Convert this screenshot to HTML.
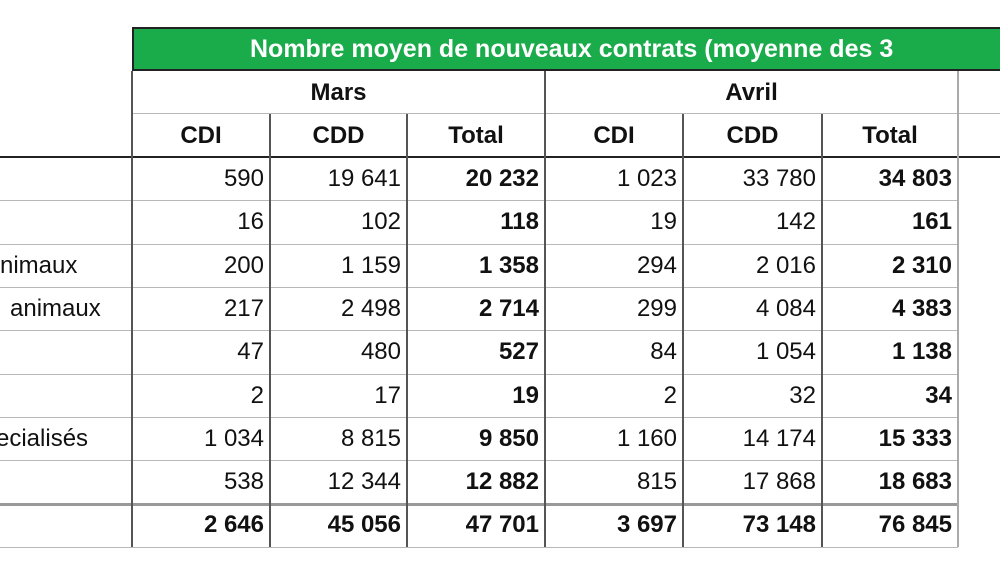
<!DOCTYPE html>
<html><head><meta charset="utf-8">
<style>
body{margin:0;width:1000px;height:563px;background:#fff;overflow:hidden;position:relative;font-family:"Liberation Sans",sans-serif;color:#111}
.a{position:absolute;box-sizing:border-box}
.t{font-size:24px;line-height:43px;white-space:nowrap}
.hl{height:1px;background:#b8b8b8}
.vl{width:2px;background:#555}
</style></head><body>
<div class="a" style="left:132px;top:27px;width:868px;height:44px;background:#1aab4a;border:2px solid #222;border-right:none"></div>
<div class="a t" style="left:250px;top:28px;color:#fff;font-weight:bold;font-size:25px">Nombre moyen de nouveaux contrats (moyenne des 3</div>
<div id="tbl"></div>
<script>
const months=["Mars","Avril"];
const subHeaders=["CDI","CDD","Total"];
const rowLabels=["","","nimaux","animaux","","","ecialisés","",""];
const marsCDI=["590","16","200","217","47","2","1 034","538","2 646"];
const marsCDD=["19 641","102","1 159","2 498","480","17","8 815","12 344","45 056"];
const marsTot=["20 232","118","1 358","2 714","527","19","9 850","12 882","47 701"];
const avrCDI=["1 023","19","294","299","84","2","1 160","815","3 697"];
const avrCDD=["33 780","142","2 016","4 084","1 054","32","14 174","17 868","73 148"];
const avrTot=["34 803","161","2 310","4 383","1 138","34","15 333","18 683","76 845"];
const labelLeft=[0,0,0,10,0,0,-4,0,0];
const root=document.getElementById('tbl');
const colX=[132,270,407,545,683,822,958];
const rowH=43.3, top0=157;
function div(cls,style,text){const d=document.createElement('div');d.className='a '+cls;d.setAttribute('style',style);if(text!==undefined)d.textContent=text;root.appendChild(d);return d;}
// horizontal lines
let d=div('hl','left:132px;top:113px;width:868px;');


d=div('','left:0;top:156px;width:1000px;height:2px;background:#222');


for(let i=1;i<=9;i++){
  const y=Math.round(top0+i*rowH);
  d=div('hl','left:0;top:'+y+'px;width:958px;'+(i===8?'height:3px;background:#999;':''));
  
  
}
// vertical lines
for(let c=0;c<colX.length;c++){
  const isMonth=(c===0||c===3||c===6);
  const y0=isMonth?71:114;
  d=div('vl','left:'+(colX[c]-1)+'px;top:'+y0+'px;height:'+(547-y0)+'px;'+(c===6?'background:#aaa;':''));
  
  
}
// month headers
months.forEach((m,i)=>{
  d=div('t','left:'+colX[i*3]+'px;top:71px;width:'+(colX[i*3+3]-colX[i*3])+'px;text-align:center;font-weight:bold',m);
  
  
  subHeaders.forEach((s,j)=>{
    const c=i*3+j;
    d=div('t','left:'+colX[c]+'px;top:114px;width:'+(colX[c+1]-colX[c])+'px;text-align:center;font-weight:bold',s);
    
    
  });
});
const cols=[marsCDI,marsCDD,marsTot,avrCDI,avrCDD,avrTot];
for(let r=0;r<9;r++){
  const y=Math.round(top0+r*rowH);
  if(rowLabels[r]){
    d=div('t','left:'+labelLeft[r]+'px;top:'+y+'px;',rowLabels[r]);
    
    
  }
  cols.forEach((arr,c)=>{
    const bold=(c%3===2)||r===8;
    d=div('t','left:'+colX[c]+'px;top:'+y+'px;width:'+(colX[c+1]-colX[c]-6)+'px;text-align:right;'+(bold?'font-weight:bold;':''),arr[r]);
    
    
  });
}
</script>
</body></html>
